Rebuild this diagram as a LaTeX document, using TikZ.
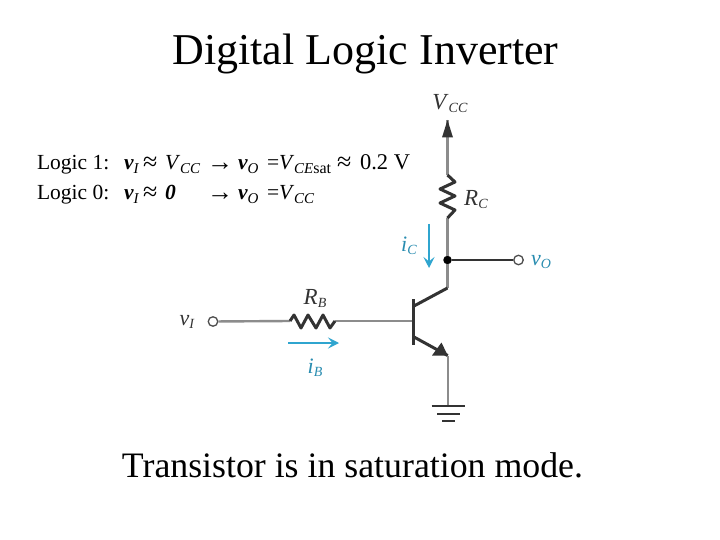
\documentclass[tikz,border=0pt]{standalone}
\usepackage{fontspec}
\setmainfont{Liberation Serif}
\usetikzlibrary{arrows.meta}
\definecolor{wire}{HTML}{8C8C8C}
\definecolor{ink}{HTML}{333333}
\definecolor{cur}{HTML}{2FA5CF}
\newcommand{\fs}[1]{\fontsize{#1}{#1}\selectfont}
\newcommand{\bv}[1]{\textbf{\textit{v}}\raisebox{-3.5pt}{\fs{15}\textit{#1}}}
\newcommand{\vv}[1]{\textit{V}\raisebox{-3.5pt}{\fs{15}#1}}
\newcommand{\lab}[2]{\textit{#1}\raisebox{-3pt}{\fs{14}\textit{#2}}}
\tikzset{
  txt/.style={anchor=base west,inner sep=0pt,outer sep=0pt,text=black,font=\fs{21.5}},
  sym/.style={txt,font=\fs{26}},
  big/.style={anchor=base,inner sep=0pt,outer sep=0pt,text=black},
  elab/.style={inner sep=0pt,outer sep=0pt,text=ink,font=\fs{22}},
  clab/.style={inner sep=0pt,outer sep=0pt,text=cur!85!black,font=\fs{22}},
  wireline/.style={draw=wire,line width=2.4pt},
  thinwire/.style={draw=ink,line width=1.2pt},
  resist/.style={draw=ink,line width=3pt,line join=round},
  tbar/.style={draw=ink,line width=3pt},
  terminal/.style={circle,draw=ink!70!wire,fill=white,line width=1.3pt,minimum size=9.5pt,inner sep=0pt},
  dotnode/.style={circle,fill=black,minimum size=8.5pt,inner sep=0pt},
  current/.style={draw=cur,line width=2.2pt,-{Stealth[length=11pt,width=11pt,inset=4.5pt]}},
  gnd/.style={draw=ink,line width=2.8pt}
}
\begin{document}
\begin{tikzpicture}[x=1pt,y=-1pt]
\useasboundingbox (0,0) rectangle (720,540);
\fill[white] (0,0) rectangle (720,540);
% titles
\node[big,font=\fs{44}] (title) at (365.5,65) {Digital Logic Inverter};
\node[big,font=\fs{35.8}] (mode) at (352.5,477) {Transistor is in saturation mode.};
% logic lines
\node[txt] (a1) at (37,170) {Logic 1:};
\node[txt] (a2) at (124,170) {\bv{I}};
\node[sym] (a3) at (143,171) {≈};
\node[txt] (a4) at (165,170) {\vv{\textit{CC}}};
\node[sym] (a5) at (207,171) {→};
\node[txt] (a6) at (238,170) {\bv{O}};
\node[txt] (a7) at (267,170) {=};
\node[txt] (a8) at (279,170) {\vv{\textit{CE}\fs{16}\upshape sat}};
\node[sym] (a9) at (337,171) {≈};
\node[txt,font=\fs{22.5}] (a10) at (360,170) {0.2 V};
\node[txt] (b1) at (37,200) {Logic 0:};
\node[txt] (b2) at (124,200) {\bv{I}};
\node[sym] (b3) at (143,201) {≈};
\node[txt] (b4) at (165,200) {\textbf{\textit{0}}};
\node[sym] (b5) at (207,201) {→};
\node[txt] (b6) at (238,200) {\bv{O}};
\node[txt] (b7) at (267,200) {=};
\node[txt] (b8) at (279,200) {\vv{\textit{CC}}};
% circuit nodes
\coordinate (tip) at (447.5,120);
\coordinate (rct) at (447.5,175);
\coordinate (rcb) at (447.5,218);
\node[dotnode] (j) at (447.5,260) {};
\node[terminal] (vo) at (518.5,260) {};
\node[terminal] (vi) at (213,321.5) {};
\coordinate (rbl) at (290,321);
\coordinate (rbr) at (335,321);
\coordinate (base) at (413.5,321);
\coordinate (bartop) at (413.5,299);
\coordinate (barbot) at (413.5,345);
\coordinate (cin) at (414,306);
\coordinate (ckink) at (447.5,288);
\coordinate (ein) at (414,337);
\coordinate (eout) at (447.7,355.5);
\coordinate (gtop) at (447.7,406);
% wires
\draw[wireline] (rct) -- (tip);
\fill[ink] (tip) -- (453,137.5) -- (442,137.5) -- cycle;
\draw[wireline] (rcb) -- (j);
\draw[thinwire] (j) -- (vo);
\draw[wireline] (j) -- (ckink);
\draw[tbar] (cin) -- (ckink);
\draw[wireline] (vi) -- (rbl);
\draw[wireline] (rbr) -- (base);
\draw[tbar] (bartop) -- (barbot);
\draw[tbar] (ein) -- (eout);
\fill[ink] (eout) -- (432,355.5) -- (441.5,342.5) -- cycle;
\draw[wireline] (eout) -- (gtop);
% resistors
\draw[resist] (rct) -- (455,182) -- (440,189) -- (455,196) -- (440,203) -- (455,210) -- (rcb);
\draw[resist] (rbl) -- (294,315) -- (301,328) -- (308,315) -- (316,328) -- (323,315) -- (330,328) -- (rbr);
% ground
\draw[gnd] (431.7,406) -- (465,406);
\draw[gnd] (437,414) -- (460,414);
\draw[gnd] (442,421) -- (455,421);
% currents
\coordinate (ict) at (429,224);
\coordinate (icb) at (429,268);
\coordinate (ibl) at (288,343);
\coordinate (ibr) at (339,343);
\draw[current] (ict) -- (icb);
\draw[current] (ibl) -- (ibr);
% labels
\node[elab,font=\fs{23}] (lvcc) at (450,104) {\lab{V}{CC}};
\node[elab,font=\fs{23}] (lrc) at (476,200) {\lab{R}{C}};
\node[elab,font=\fs{23}] (lrb) at (315,298) {\lab{R}{B}};
\node[elab] (lvi) at (187,322) {\lab{v}{I}};
\node[clab] (lic) at (409,246) {\lab{i}{C}};
\node[clab] (lvo) at (541,262) {\lab{v}{O}};
\node[clab] (lib) at (315,368) {\lab{i}{B}};
\end{tikzpicture}
\end{document}
